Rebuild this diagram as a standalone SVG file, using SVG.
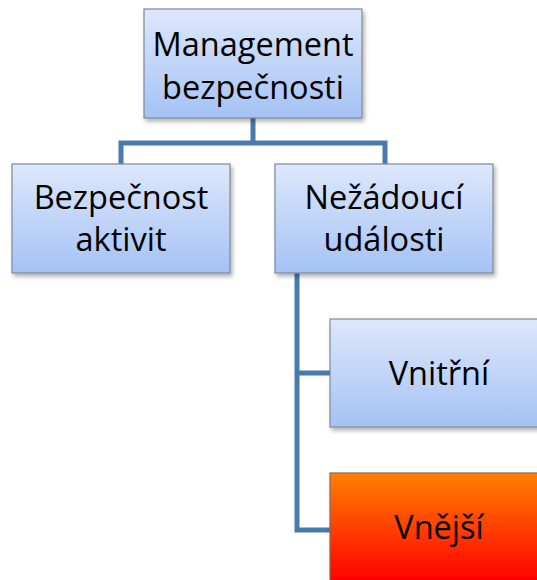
<svg xmlns="http://www.w3.org/2000/svg" width="537" height="580" viewBox="0 0 537 580">
<defs>
<linearGradient id="gBlue" x1="0" y1="0" x2="0" y2="1">
<stop offset="0" stop-color="#dde8fb"/>
<stop offset="1" stop-color="#a5c2f5"/>
</linearGradient>
<linearGradient id="gRed" x1="0" y1="0" x2="0" y2="1">
<stop offset="0" stop-color="#ff8000"/>
<stop offset="1" stop-color="#ff0000"/>
</linearGradient>
<filter id="sh" x="-10%" y="-10%" width="125%" height="130%">
<feDropShadow dx="2" dy="3" stdDeviation="2" flood-color="#000" flood-opacity="0.3"/>
</filter>
</defs>
<style>
.box{fill:url(#gBlue);stroke:#7d8996;stroke-width:1.2;filter:url(#sh)}
.hot{fill:url(#gRed);stroke:#8a6a50;stroke-width:1.2;filter:url(#sh)}
.lbl{font-family:"Open Sans","Noto Sans","DejaVu Sans",sans-serif;font-size:32.5px;fill:#000;text-anchor:middle}
.con{fill:none;stroke:#4a79ad;stroke-width:5}
</style>
<rect width="537" height="580" fill="#fff"/>
<g id="connectors">
<path class="con" d="M253,118 V143 M121,164 V143 H385 V164"/>
<path class="con" d="M297,273 V530 H331 M297,373 H331"/>
</g>
<g id="management">
<rect class="box" x="144" y="9" width="218" height="109"/>
<text class="lbl" x="253" y="56">Management</text>
<text class="lbl" x="253" y="99">bezpečnosti</text>
</g>
<g id="bezpecnost">
<rect class="box" x="12" y="164" width="218" height="109"/>
<text class="lbl" x="121" y="209">Bezpečnost</text>
<text class="lbl" x="121" y="251">aktivit</text>
</g>
<g id="nezadouci">
<rect class="box" x="275" y="164" width="218" height="109"/>
<text class="lbl" x="384" y="209">Nežádoucí</text>
<text class="lbl" x="384" y="251">události</text>
</g>
<g id="vnitrni">
<rect class="box" x="330" y="319" width="218" height="108"/>
<text class="lbl" x="439" y="385">Vnitřní</text>
</g>
<g id="vnejsi">
<rect class="hot" x="330" y="473" width="218" height="109"/>
<text class="lbl" x="439" y="539">Vnější</text>
</g>
</svg>
